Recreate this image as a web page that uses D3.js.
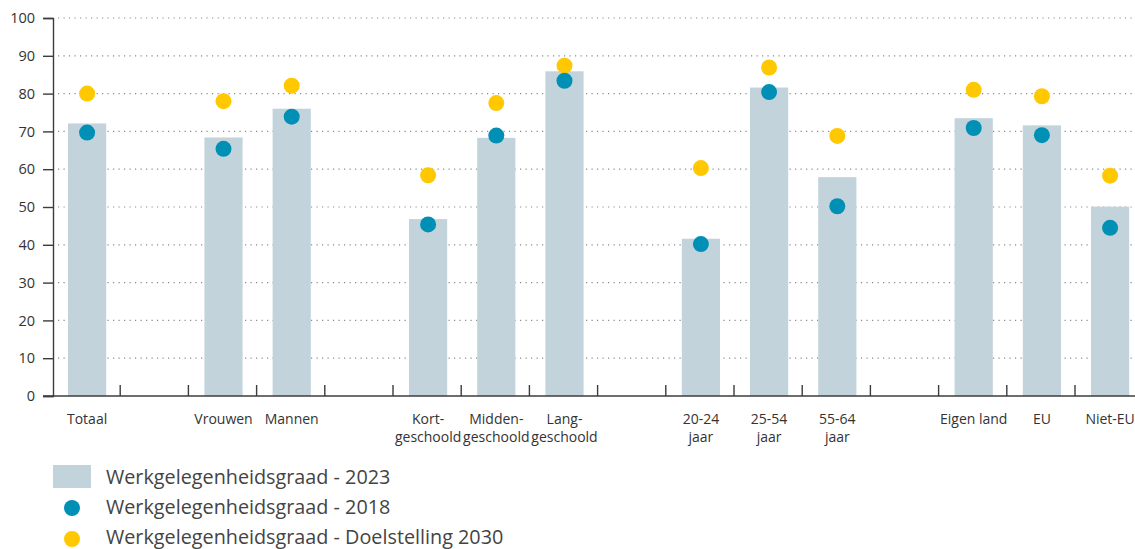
<!DOCTYPE html>
<html lang="nl">
<head>
<meta charset="UTF-8">
<title>Werkgelegenheidsgraad</title>
<style>
  body { margin: 0; background: #fff; }
  svg { display: block; font-family: "Open Sans", "Noto Sans", sans-serif; }
</style>
</head>
<body>
<script src="https://cdn.jsdelivr.net/npm/d3@7"></script>
<script>
// slots, including empty spacer slots between the groups
var slots = ["Totaal", "g1", "Vrouwen", "Mannen", "g2", "Kort", "Midden", "Lang",
             "g3", "20-24", "25-54", "55-64", "g4", "Eigen land", "EU", "Niet-EU"];
var categories = ["Totaal", "Vrouwen", "Mannen", "Kort", "Midden", "Lang",
                  "20-24", "25-54", "55-64", "Eigen land", "EU", "Niet-EU"];
var labels = [["Totaal"], ["Vrouwen"], ["Mannen"], ["Kort-", "geschoold"], ["Midden-", "geschoold"],
              ["Lang-", "geschoold"], ["20-24", "jaar"], ["25-54", "jaar"], ["55-64", "jaar"],
              ["Eigen land"], ["EU"], ["Niet-EU"]];
var values2023 = [72.1, 68.4, 76.0, 46.8, 68.3, 85.9, 41.6, 81.6, 57.9, 73.5, 71.6, 50.1];
var values2018 = [69.7, 65.4, 73.9, 45.4, 68.9, 83.4, 40.2, 80.4, 50.2, 70.9, 69.0, 44.5];
var values2030 = [80.0, 78.0, 82.1, 58.4, 77.5, 87.4, 60.3, 86.9, 68.8, 81.0, 79.3, 58.3];
var yTicks = [0, 10, 20, 30, 40, 50, 60, 70, 80, 90, 100];
var legendItems = ["Werkgelegenheidsgraad - 2023", "Werkgelegenheidsgraad - 2018",
                   "Werkgelegenheidsgraad - Doelstelling 2030"];

var w = 1135, h = 549;
var mLeft = 53, mTop = 18, mBottom = 396;
var slotW = 68.2;

var svg = d3.select("body").append("svg").attr("width", w).attr("height", h);

var x = d3.scaleBand().domain(slots).range([mLeft, mLeft + slotW * slots.length]).paddingInner(0.44).paddingOuter(0.22);
var y = d3.scaleLinear().domain([0, 100]).range([mBottom, mTop]);

// dotted gridlines
svg.append("g").selectAll("line")
  .data(yTicks.filter(function(d) { return d > 0; }))
  .enter().append("line")
  .attr("x1", mLeft + 5).attr("x2", w)
  .attr("y1", function(d) { return y(d); })
  .attr("y2", function(d) { return y(d); })
  .attr("stroke", "#8a8a8a").attr("stroke-width", 1.2)
  .attr("stroke-dasharray", "1.2,4.3");

// bars 2023
svg.append("g").selectAll("rect")
  .data(categories)
  .enter().append("rect")
  .attr("x", function(d) { return x(d); })
  .attr("width", x.bandwidth())
  .attr("y", function(d, i) { return y(values2023[i]); })
  .attr("height", function(d, i) { return mBottom - y(values2023[i]); })
  .attr("fill", "#c3d3dc");

// y axis
var yAxis = d3.axisLeft(y).tickValues(yTicks).tickSize(10).tickPadding(8);
var gy = svg.append("g").attr("transform", "translate(" + mLeft + ",0)").call(yAxis);
gy.select(".domain").attr("stroke", "#3c3c3c").attr("stroke-width", 1.4);
gy.selectAll(".tick line").attr("stroke", "#3c3c3c").attr("stroke-width", 1.4);
gy.selectAll(".tick text").attr("font-size", 14.5).attr("fill", "#333")
  .attr("font-family", "'Open Sans', sans-serif");

// x baseline + slot boundary ticks
svg.append("line").attr("x1", mLeft - 10).attr("x2", w)
  .attr("y1", mBottom).attr("y2", mBottom)
  .attr("stroke", "#3c3c3c").attr("stroke-width", 1.4);
var step = x.step();
svg.append("g").selectAll("line")
  .data(slots.slice(1))
  .enter().append("line")
  .attr("x1", function(d) { return x(d) - step * 0.22 - 1; })
  .attr("x2", function(d) { return x(d) - step * 0.22 - 1; })
  .attr("y1", mBottom - 11).attr("y2", mBottom)
  .attr("stroke", "#3c3c3c").attr("stroke-width", 1.4);

// x labels
var lab = svg.append("g").selectAll("text")
  .data(categories)
  .enter().append("text")
  .attr("text-anchor", "middle")
  .attr("font-size", 14).attr("fill", "#333")
  .attr("transform", function(d) { return "translate(" + (x(d) + x.bandwidth() / 2) + ",424)"; });
lab.selectAll("tspan")
  .data(function(d, i) { return labels[i]; })
  .enter().append("tspan")
  .attr("x", 0)
  .attr("dy", function(d, i) { return i === 0 ? 0 : 18; })
  .text(function(d) { return d; });

// dots 2030 and 2018
var r = 8;
svg.append("g").selectAll("circle")
  .data(categories)
  .enter().append("circle")
  .attr("cx", function(d) { return x(d) + x.bandwidth() / 2; })
  .attr("cy", function(d, i) { return y(values2030[i]); })
  .attr("r", r).attr("fill", "#ffc800");
svg.append("g").selectAll("circle")
  .data(categories)
  .enter().append("circle")
  .attr("cx", function(d) { return x(d) + x.bandwidth() / 2; })
  .attr("cy", function(d, i) { return y(values2018[i]); })
  .attr("r", r).attr("fill", "#0090b6");

// legend
var lg = svg.append("g");
lg.append("rect").attr("x", 53).attr("y", 465).attr("width", 38).attr("height", 23).attr("fill", "#c3d3dc");
lg.append("circle").attr("cx", 72).attr("cy", 508).attr("r", 8).attr("fill", "#0090b6");
lg.append("circle").attr("cx", 72).attr("cy", 539).attr("r", 8).attr("fill", "#ffc800");
lg.selectAll("text")
  .data(legendItems)
  .enter().append("text")
  .attr("x", 106)
  .attr("y", function(d, i) { return 484 + i * 30; })
  .attr("font-size", 19.8).attr("fill", "#444")
  .text(function(d) { return d; });
</script>
</body>
</html>
